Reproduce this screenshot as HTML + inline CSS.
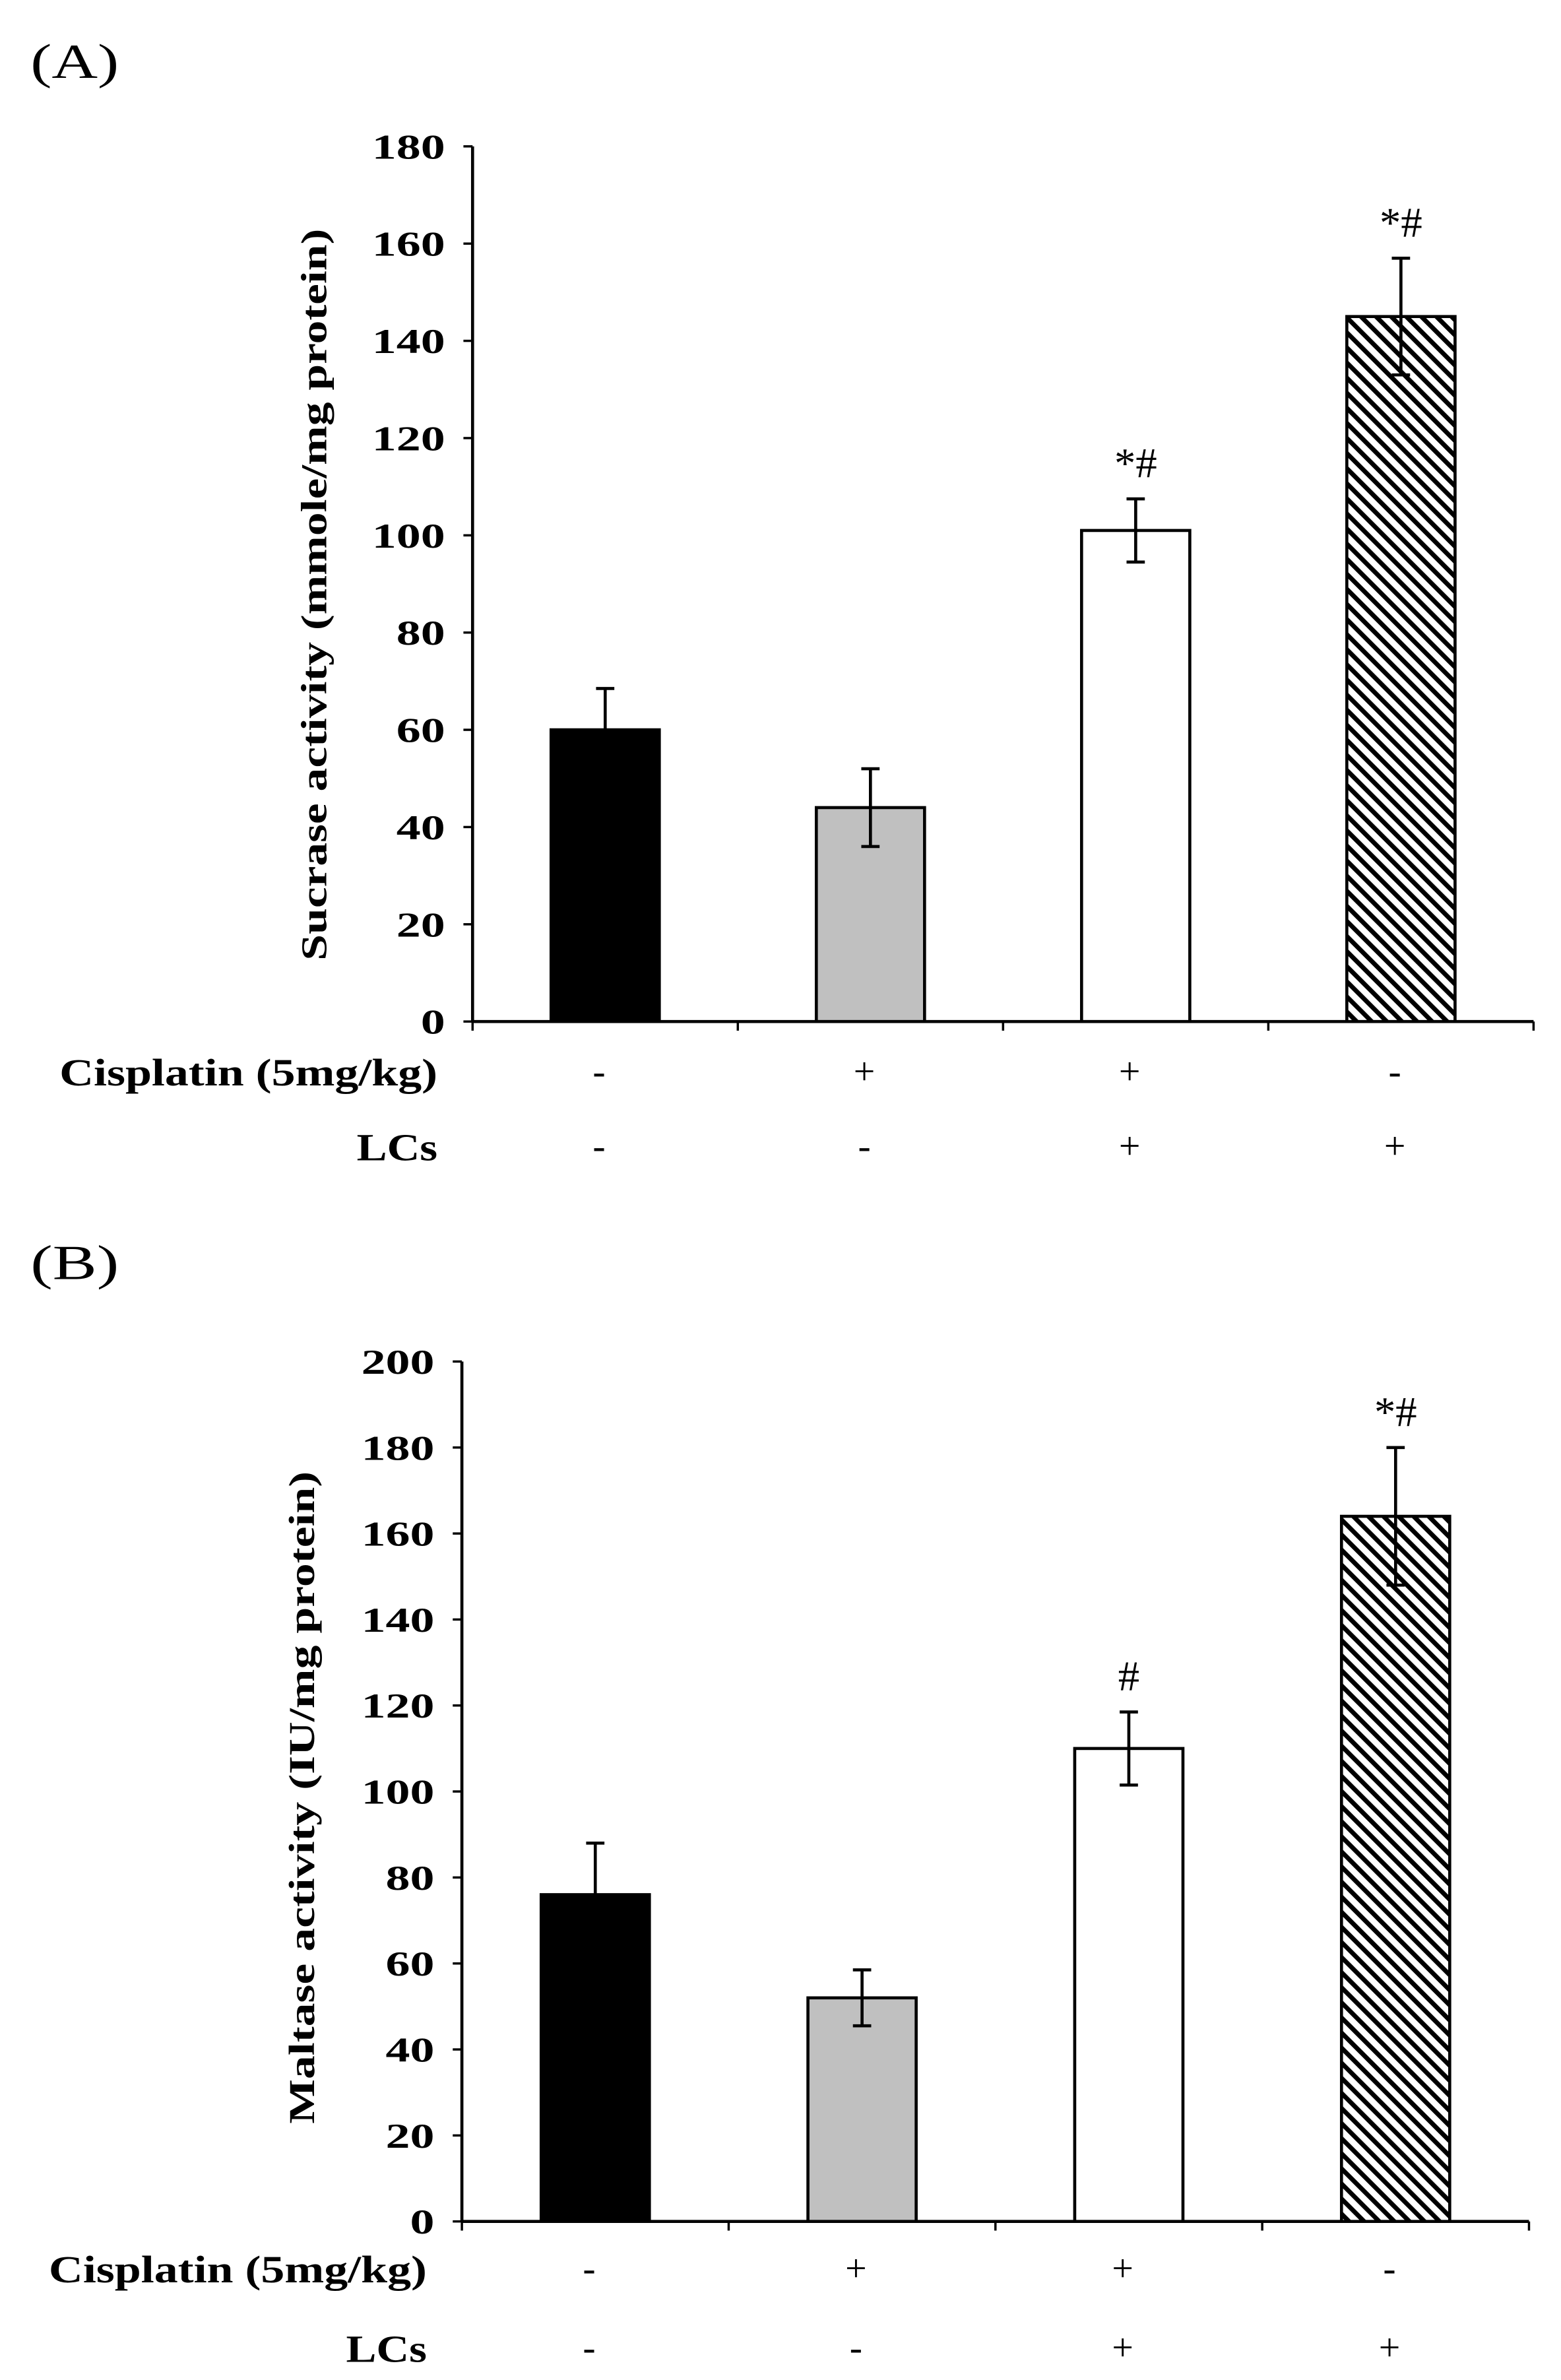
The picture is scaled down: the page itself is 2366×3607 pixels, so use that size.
<!DOCTYPE html>
<html><head><meta charset="utf-8"><style>html,body{margin:0;padding:0;background:#fff}svg{display:block}</style></head>
<body>
<svg id="fig" width="2366" height="3607" viewBox="0 0 1024 1561" preserveAspectRatio="none" xmlns="http://www.w3.org/2000/svg">
<defs>
<pattern id="hatch" patternUnits="userSpaceOnUse" width="7" height="7" patternTransform="rotate(-45)">
<rect width="7" height="7" fill="#fff"/><rect x="0" y="0" width="3" height="7" fill="#000"/>
</pattern>
</defs>
</svg>
<script>
const categories = ['Control','Cisplatin','Cisplatin+LCs','LCs'];
const cisplatinSigns = ['-','+','+','-'];
const lcsSigns = ['-','-','+','+'];
const sucraseValues = [60,44,101,145];
const sucraseErrors = [8.5,8,6.5,12];
const sucraseMarks = ['','','*#','*#'];
const sucraseTicks = [0,20,40,60,80,100,120,140,160,180];
const maltaseValues = [76,52,110,164];
const maltaseErrors = [12,6.5,8.5,16];
const maltaseMarks = ['','','#','*#'];
const maltaseTicks = [0,20,40,60,80,100,120,140,160,180,200];
const fills = ['#000','#c0c0c0','#fff','url(#hatch)'];

const svg = document.getElementById('fig');
const NS = 'http://www.w3.org/2000/svg';
function mk(tag, attrs, parent){const e=document.createElementNS(NS,tag);for(const k in attrs)e.setAttribute(k,attrs[k]);(parent||svg).appendChild(e);return e;}
const F = '"Liberation Serif", serif';

function chart(cfg){
  const g = mk('g',{});
  
  
  const yS = v => cfg.y0 - (v/cfg.max)*(cfg.y0-cfg.yTop);
  const xS = i => cfg.x0 + cfg.step*(i+0.5);
  const lab = mk('text',{x:cfg.labelX,y:cfg.labelY,'font-family':F,'font-size':32,textLength:58,lengthAdjust:'spacingAndGlyphs'},g);
  lab.textContent = cfg.label;
  
  
  const ya = mk('line',{x1:cfg.x0,x2:cfg.x0,y1:cfg.yTop,y2:cfg.y0,stroke:'#000','stroke-width':2},g);
  
  
  const xEnd = cfg.x0 + cfg.step*categories.length;
  const xa = mk('line',{x1:cfg.x0,x2:xEnd,y1:cfg.y0,y2:cfg.y0,stroke:'#000','stroke-width':2},g);
  
  
  for(let i=0;i<=categories.length;i++){
    mk('line',{x1:cfg.x0+cfg.step*i,x2:cfg.x0+cfg.step*i,y1:cfg.y0,y2:cfg.y0+6,stroke:'#000','stroke-width':1.5},g);
  }
  cfg.ticks.forEach(t=>{
    mk('line',{x1:cfg.x0-6,x2:cfg.x0,y1:yS(t),y2:yS(t),stroke:'#000','stroke-width':1.5},g);
    const s = String(t);
    const tx = mk('text',{x:cfg.x0-18,y:yS(t)+8,'text-anchor':'end','font-family':F,'font-weight':'bold','font-size':23,textLength:s.length*16,lengthAdjust:'spacingAndGlyphs'},g);
    tx.textContent = t;
    
    
  });
  const mid = (cfg.y0+cfg.yTop)/2 + cfg.titleShift;
  const yt = mk('text',{x:0,y:0,transform:`translate(${cfg.titleX},${mid}) rotate(-90)`,'text-anchor':'middle','font-family':F,'font-weight':'bold','font-size':24,textLength:cfg.titleLen,lengthAdjust:'spacingAndGlyphs'},g);
  yt.textContent = cfg.title;
  
  
  cfg.values.forEach((v,i)=>{
    const cx = xS(i), w = 71;
    const b = mk('rect',{x:cx-w/2,y:yS(v),width:w,height:cfg.y0-yS(v),fill:fills[i],stroke:'#000','stroke-width':2},g);
    
    
    const e = cfg.errors[i];
    const eb = mk('path',{d:`M${cx},${yS(v-e)}V${yS(v+e)}M${cx-6},${yS(v+e)}H${cx+6}M${cx-6},${yS(v-e)}H${cx+6}`,stroke:'#000','stroke-width':2,fill:'none'},g);
    
    
    if(cfg.marks[i]){
      const m = mk('text',{x:cx,y:yS(v+e)-14,'text-anchor':'middle','font-family':F,'font-size':28},g);
      m.textContent = cfg.marks[i];
      
      
    }
    [[cisplatinSigns,cfg.row1],[lcsSigns,cfg.row2]].forEach(([arr,ry])=>{
      const s = mk('text',{x:cx-4,y:ry+8,'text-anchor':'middle','font-family':F,'font-size':25},g);
      s.textContent = arr[i];
      
      
    });
  });
  [['Cisplatin (5mg/kg)',cfg.row1,248],['LCs',cfg.row2,53]].forEach(([t,ry,len])=>{
    const s = mk('text',{x:cfg.x0-23,y:ry+9,'text-anchor':'end','font-family':F,'font-weight':'bold','font-size':25,textLength:len,lengthAdjust:'spacingAndGlyphs'},g);
    s.textContent = t;
    
    
  });
}
chart({name:'sucrase-chart',label:'(A)',labelX:20,labelY:51,x0:310,step:174,y0:670,yTop:96,max:180,ticks:sucraseTicks,values:sucraseValues,errors:sucraseErrors,marks:sucraseMarks,title:'Sucrase activity (mmole/mg protein)',titleX:214,titleLen:480,titleShift:7,row1:703,row2:752});
chart({name:'maltase-chart',label:'(B)',labelX:20,labelY:839,x0:303,step:175,y0:1457,yTop:893,max:200,ticks:maltaseTicks,values:maltaseValues,errors:maltaseErrors,marks:maltaseMarks,title:'Maltase activity (IU/mg protein)',titleX:206,titleLen:428,titleShift:4,row1:1488,row2:1540});
</script>
</body></html>
